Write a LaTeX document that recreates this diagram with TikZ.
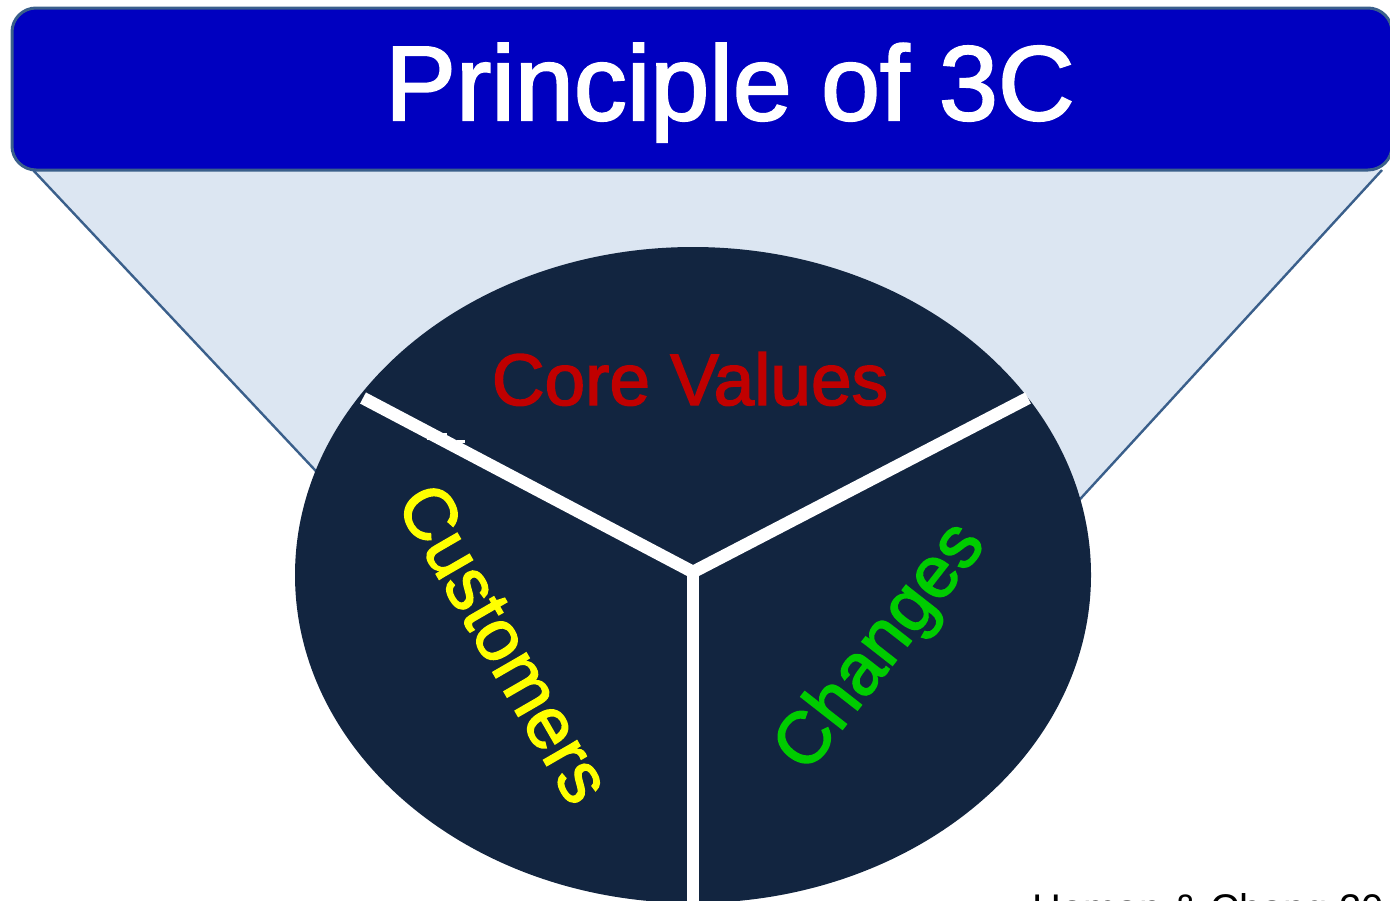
\documentclass[tikz,border=0pt]{standalone}
\usepackage{fontspec}
\setmainfont{Liberation Sans}
\newfontfamily\heavy{Liberation Sans}[FakeBold=2]
\usetikzlibrary{shapes.geometric}

\definecolor{bannerblue}{RGB}{0,0,192}
\definecolor{edgeblue}{RGB}{58,95,139}
\definecolor{funnel}{RGB}{220,230,242}
\definecolor{navy}{RGB}{18,37,64}
\definecolor{corered}{RGB}{192,0,0}
\definecolor{custyellow}{RGB}{255,255,0}
\definecolor{changegreen}{RGB}{0,204,0}

\begin{document}
\begin{tikzpicture}[x=0.5pt, y=-0.5pt,
    banner/.style={rectangle, rounded corners=12pt, draw=edgeblue, line width=1.5pt,
        fill=bannerblue, minimum width=690pt, minimum height=81pt, inner sep=0pt},
    wheel/.style={ellipse, fill=navy, minimum width=398pt, minimum height=328pt, inner sep=0pt},
    spoke/.style={white, line width=6.3pt},
    label/.style={font=\heavy\fontsize{36.5}{40}\selectfont, inner sep=0pt}]

    \useasboundingbox (0,0) rectangle (1390,900);
    \clip (0,0) rectangle (1390,900);

    % funnel under the banner
    \coordinate (ftl) at (33,170);
    \coordinate (ftr) at (1382,170);
    \coordinate (fbl) at (345,502);
    \coordinate (fbr) at (1060,521);
    \fill[funnel] (ftl) -- (ftr) -- (fbr) -- (fbl) -- cycle;
    \draw[edgeblue, line width=1.2pt] (ftl) -- (fbl);
    \draw[edgeblue, line width=1.2pt] (ftr) -- (fbr);

    \node[banner] (head) at (702,89) {};
    \node[anchor=base, text=white, font=\heavy\fontsize{53}{60}\selectfont, inner sep=0pt]
        (title) at (730,120) {Principle of 3C};

    \node[wheel] (disc) at (693,575) {};
    \coordinate (hub) at (693,572);
    \coordinate (endl) at (363,398);
    \coordinate (endr) at (1028,398);
    \coordinate (endb) at (693,910);
    \draw[spoke] (endl) -- (hub) -- (endr);
    \draw[spoke] (hub) -- (endb);
    \fill[white] (427,433) rectangle (447,440);
    \fill[white] (457,440) rectangle (465,443);

    \node[label, text=corered, anchor=base] (core) at (690,405) {Core Values};
    \node[label, text=custyellow, rotate=-60] (cust) at (505,643) {Customers};
    \node[label, text=changegreen, rotate=52] (chg) at (882,648) {Changes};

    \node[anchor=base west, font=\fontsize{20}{24}\selectfont, inner sep=0pt]
        (cite) at (1032,922) {Homan \& Chang 20};
\end{tikzpicture}
\end{document}
